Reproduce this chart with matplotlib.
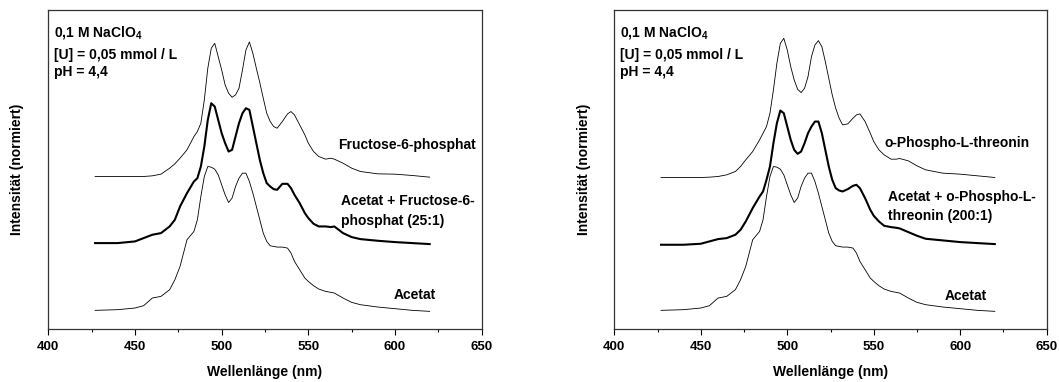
import matplotlib
matplotlib.use("Agg")
import matplotlib.pyplot as plt
from matplotlib.ticker import MultipleLocator

plt.rcParams["font.family"] = ["Liberation Sans", "DejaVu Sans"]
plt.rcParams["font.weight"] = "bold"
plt.rcParams["mathtext.fontset"] = "custom"
plt.rcParams["mathtext.rm"] = "Liberation Sans:bold"
plt.rcParams["mathtext.bf"] = "Liberation Sans:bold"

# wavelength grid (nm) shared by all spectra
wavelength = [427, 440, 450, 455, 460, 465, 470, 473, 476, 480, 484, 486, 488, 490,
              492, 494, 496, 498, 500, 502, 504, 506, 508, 510, 512, 514, 516, 518,
              520, 522, 524, 526, 528, 530, 532, 535, 538, 540, 542, 545, 548, 550,
              553, 556, 560, 563, 565, 570, 575, 580, 590, 600, 610, 620]

# stacked, normalised intensities (arbitrary units)
fructose = [4.58, 4.58, 4.58, 4.58, 4.60, 4.65, 4.83, 4.96, 5.13, 5.38, 5.78, 5.93, 6.18, 6.88,
            7.83, 8.43, 8.58, 8.18, 7.78, 7.33, 7.08, 6.96, 7.03, 7.23, 7.78, 8.38, 8.62, 8.28,
            7.83, 7.40, 6.93, 6.48, 6.23, 6.08, 6.03, 6.23, 6.46, 6.53, 6.43, 6.13, 5.83, 5.58,
            5.33, 5.18, 5.10, 5.13, 5.10, 4.98, 4.83, 4.73, 4.66, 4.65, 4.61, 4.56]
mix_fructose = [2.58, 2.58, 2.63, 2.73, 2.83, 2.88, 3.08, 3.28, 3.68, 4.08, 4.43, 4.53, 4.88, 5.48,
                6.28, 6.78, 6.68, 6.28, 5.88, 5.58, 5.33, 5.38, 5.78, 6.18, 6.48, 6.63, 6.58, 6.08,
                5.58, 5.08, 4.68, 4.38, 4.28, 4.20, 4.18, 4.36, 4.36, 4.23, 4.03, 3.78, 3.48, 3.33,
                3.16, 3.08, 3.08, 3.06, 3.08, 2.88, 2.76, 2.70, 2.65, 2.61, 2.58, 2.55]
acetat = [0.56, 0.58, 0.63, 0.70, 0.93, 0.98, 1.18, 1.48, 1.88, 2.68, 2.93, 3.28, 3.98, 4.58,
          4.88, 4.86, 4.80, 4.63, 4.33, 4.03, 3.80, 3.93, 4.28, 4.53, 4.68, 4.68, 4.43, 4.08,
          3.68, 3.28, 2.88, 2.63, 2.50, 2.48, 2.46, 2.46, 2.43, 2.28, 2.03, 1.78, 1.53, 1.43,
          1.30, 1.20, 1.13, 1.10, 1.08, 0.93, 0.80, 0.73, 0.66, 0.61, 0.56, 0.53]
threonin = [4.55, 4.55, 4.55, 4.56, 4.58, 4.63, 4.73, 4.88, 5.08, 5.33, 5.68, 5.88, 6.08, 6.48,
            7.18, 7.98, 8.58, 8.73, 8.38, 7.88, 7.48, 7.20, 7.10, 7.23, 7.58, 8.18, 8.53, 8.66,
            8.48, 8.03, 7.53, 7.03, 6.63, 6.33, 6.13, 6.16, 6.33, 6.43, 6.46, 6.23, 5.88, 5.63,
            5.38, 5.23, 5.10, 5.10, 5.12, 5.05, 4.90, 4.78, 4.68, 4.65, 4.60, 4.55]
mix_threonin = [2.53, 2.53, 2.56, 2.63, 2.70, 2.73, 2.83, 2.98, 3.23, 3.63, 3.98, 4.13, 4.48, 4.88,
                5.58, 6.18, 6.56, 6.48, 6.08, 5.68, 5.38, 5.26, 5.33, 5.58, 5.88, 6.08, 6.23, 6.23,
                5.88, 5.38, 4.88, 4.48, 4.23, 4.16, 4.13, 4.20, 4.30, 4.33, 4.23, 3.93, 3.58, 3.40,
                3.23, 3.10, 3.06, 3.04, 3.02, 2.91, 2.80, 2.71, 2.66, 2.61, 2.58, 2.55]

conditions = ["0,1 M NaClO$_4$", "[U] = 0,05 mmol / L", "pH = 4,4"]
left_labels = ["Fructose-6-phosphat", "Acetat + Fructose-6-", "phosphat (25:1)", "Acetat"]
right_labels = ["o-Phospho-L-threonin", "Acetat + o-Phospho-L-", "threonin (200:1)", "Acetat"]
xticks = [400, 450, 500, 550, 600, 650]


def style_axes(ax):
    ax.set_xlim(400, 650)
    ax.set_ylim(0, 9.58)
    ax.set_xticks(xticks)
    ax.xaxis.set_minor_locator(MultipleLocator(25))
    ax.set_yticks([])
    ax.tick_params(axis="x", which="major", direction="out", length=4, width=0.8,
                   labelsize=9.5, pad=5)
    ax.tick_params(axis="x", which="minor", direction="out", length=2.5, width=0.8)
    for sp in ax.spines.values():
        sp.set_linewidth(0.9)
        sp.set_color("#333333")
    ax.set_xlabel("Wellenlänge (nm)", fontsize=10, fontweight="bold")
    ax.xaxis.set_label_coords(0.5, -0.112)
    ax.set_ylabel("Intensität (normiert)", fontsize=10, fontweight="bold")
    ax.yaxis.set_label_coords(-0.055, 0.5)
    for text, fy in zip(conditions, [0.928, 0.859, 0.807]):
        ax.text(0.013, fy, text, transform=ax.transAxes, fontsize=10,
                fontweight="bold", va="center", ha="left")


def make_figure():
    fig = plt.figure(figsize=(10.59, 3.82), dpi=100)
    ax1 = fig.add_axes([48.3 / 1059, 53 / 382, 433.4 / 1059, 319 / 382])
    ax2 = fig.add_axes([614.3 / 1059, 53 / 382, 432.4 / 1059, 319 / 382])

    ax1.plot(wavelength, fructose, color="black", lw=0.6)
    ax1.plot(wavelength, mix_fructose, color="black", lw=1.5)
    ax1.plot(wavelength, acetat, color="black", lw=0.6)
    style_axes(ax1)
    for text, fx, fy in zip(left_labels, [0.668, 0.676, 0.676, 0.797],
                            [0.577, 0.400, 0.340, 0.108]):
        ax1.text(fx, fy, text, transform=ax1.transAxes, fontsize=10,
                 fontweight="bold", va="center", ha="left")

    ax2.plot(wavelength, threonin, color="black", lw=0.6)
    ax2.plot(wavelength, mix_threonin, color="black", lw=1.5)
    ax2.plot(wavelength, acetat, color="black", lw=0.6)
    style_axes(ax2)
    for text, fx, fy in zip(right_labels, [0.626, 0.634, 0.634, 0.764],
                            [0.582, 0.415, 0.355, 0.105]):
        ax2.text(fx, fy, text, transform=ax2.transAxes, fontsize=10,
                 fontweight="bold", va="center", ha="left")

    fig.savefig("out.png", dpi=100)


if __name__ == "__main__":
    make_figure()
